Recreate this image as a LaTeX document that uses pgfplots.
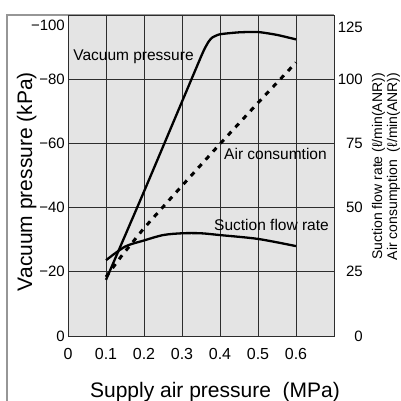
\documentclass[border=0pt]{standalone}
\usepackage{pgfplots}
\pgfplotsset{compat=1.18}
\usepackage{fontspec}
\setmainfont{Liberation Sans}
\definecolor{bg}{RGB}{228,228,228}
\definecolor{grd}{RGB}{45,45,45}
\definecolor{frm}{RGB}{150,150,150}
\begin{document}
\begin{tikzpicture}
\path[use as bounding box] (0pt,0pt) rectangle (401pt,-401pt);
\fill[white] (0pt,0pt) rectangle (401pt,-401pt);
\draw[frm, line width=1.3pt] (7pt,-402pt) -- (7pt,-15pt) -- (334pt,-15pt);
\begin{axis}[
  at={(68pt,-336pt)}, anchor=south west,
  width=266pt, height=321pt, scale only axis,
  xmin=0, xmax=0.7, ymin=-100, ymax=0, y dir=reverse,
  xtick={0,0.1,0.2,0.3,0.4,0.5,0.6},
  xticklabels={0,0.1,0.2,0.3,0.4,0.5,0.6},
  ytick={0,-20,-40,-60,-80},
  yticklabels={0,−20,−40,−60,−80},
  extra y ticks={-100}, extra y tick labels={−100},
  extra y tick style={yticklabel style={yshift=-10.5pt}, grid=none},
  grid=major, major grid style={grd, line width=0.9pt},
  axis background/.style={fill=bg},
  axis line style={grd, line width=0.9pt},
  major tick length=0pt,
  tick label style={font=\fontsize{15}{18}\selectfont},
  xticklabel style={font=\fontsize{16}{18}\selectfont},
  yticklabel style={anchor=east, inner sep=0pt, xshift=-3pt},
  xticklabel style={anchor=north, inner sep=0pt, yshift=-12pt},
]
\addplot[black, line width=2.3pt, smooth, tension=0.35] coordinates {
  (0.1,-17.5) (0.2,-45) (0.3,-73) (0.35,-87) (0.36,-89.6) (0.37,-91.7)
  (0.38,-93) (0.4,-94) (0.45,-94.6) (0.5,-94.7) (0.55,-93.8) (0.6,-92.4)
};
\end{axis}
\begin{axis}[
  at={(68pt,-336pt)}, anchor=south west,
  width=266pt, height=321pt, scale only axis,
  xmin=0, xmax=0.7, ymin=0, ymax=125,
  axis x line=none, axis y line*=right,
  ytick={0,25,50,75,100},
  yticklabels={0,25,50,75,100},
  extra y ticks={125}, extra y tick labels={125},
  extra y tick style={yticklabel style={yshift=-12pt}},
  axis line style={grd, line width=0.9pt},
  major tick length=0pt,
  tick label style={font=\fontsize{15}{18}\selectfont},
  yticklabel style={anchor=east, inner sep=0pt, xshift=29pt},
]
\addplot[black, line width=3pt, dash pattern=on 5pt off 6pt] coordinates {
  (0.1,23) (0.14,31) (0.2,42) (0.3,58.5) (0.4,74.8) (0.5,90.8) (0.6,106.5)
};
\addplot[black, line width=2.3pt, smooth, tension=0.5] coordinates {
  (0.1,29.5) (0.15,34.8) (0.2,37.2) (0.25,39.3) (0.3,40) (0.35,40)
  (0.4,39.3) (0.5,37.8) (0.6,35)
};
\end{axis}
\node[font=\fontsize{15.5}{18}\selectfont, anchor=base] at (133.5pt,-60.7pt) {Vacuum pressure};
\node[font=\fontsize{15.5}{18}\selectfont, anchor=base] at (275.5pt,-159.3pt) {Air consumtion};
\node[font=\fontsize{15.5}{18}\selectfont, anchor=base] at (271.5pt,-230pt) {Suction flow rate};
\node[font=\fontsize{21}{24}\selectfont, anchor=base] at (215pt,-397pt) {Supply air pressure\ \ (MPa)};
\node[font=\fontsize{21}{24}\selectfont, rotate=90, anchor=base] at (32pt,-181.5pt) {Vacuum pressure (kPa)};
\node[font=\fontsize{14}{16}\selectfont, rotate=90, anchor=base] at (382pt,-166.5pt) {Suction flow rate (ℓ/min(ANR))};
\node[font=\fontsize{14}{16}\selectfont, rotate=90, anchor=base] at (397pt,-166.5pt) {Air consumption\ \ (ℓ/min(ANR))};
\end{tikzpicture}
\end{document}
